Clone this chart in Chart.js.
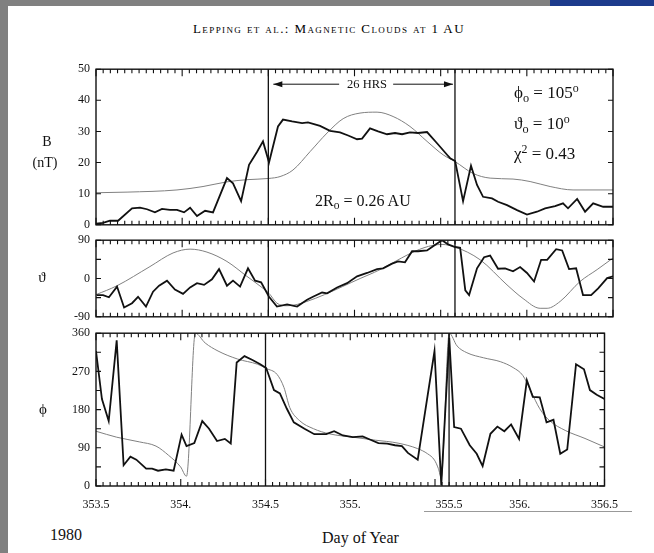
<!DOCTYPE html>
<html lang="en">
<head>
<meta charset="UTF-8">
<title>Magnetic Cloud, Days 353.5 - 356.5, 1980</title>
<script src="https://cdn.jsdelivr.net/npm/chart.js@4.4.1/dist/chart.umd.min.js"></script>
<style>
  body { margin: 0; width: 654px; height: 553px; position: relative; overflow: hidden; background: #fff;
         font-family: "Liberation Serif", "DejaVu Serif", serif; color: #111; }
  canvas { position: absolute; left: 40px; }
  .txt { position: absolute; white-space: nowrap; line-height: 1; }
  .sub { font-size: 0.72em; position: relative; top: 0.3em; }
  .sup { font-size: 0.7em; position: relative; top: -0.5em; }
  #edgeLeft { position: absolute; left: 0; top: 0; width: 8px; height: 553px; background: #808080; }
  #edgeTop { position: absolute; left: 0; top: 0; width: 550px; height: 6px; background: #808080; }
  #edgeBlue { position: absolute; left: 550px; top: 0; width: 104px; height: 6px; background: #1d3b8c; }
  #rule { position: absolute; left: 424px; top: 511px; width: 208px; height: 1px; background: #999; }
</style>
</head>
<body>
<div id="edgeLeft"></div><div id="edgeTop"></div><div id="edgeBlue"></div>

<div class="txt" style="left:193px; top:22px; font-size:13px; font-variant:small-caps; letter-spacing:1.4px; color:#000;">Lepping et al.: Magnetic Clouds at 1 AU</div>

<canvas id="bChart" width="590" height="182" style="top:56px;"></canvas>
<canvas id="thChart" width="590" height="103" style="top:227px;"></canvas>
<canvas id="phChart" width="590" height="190" style="top:320px;"></canvas>

<div class="txt" style="left:47px; top:135px; font-size:14px; transform:translateX(-50%);">B</div>
<div class="txt" style="left:45px; top:156px; font-size:14px; transform:translateX(-50%);">(nT)</div>
<div class="txt" style="left:42px; top:270px; font-size:15px; transform:translateX(-50%);">&#977;</div>
<div class="txt" style="left:43px; top:402px; font-size:15px; transform:translateX(-50%);">&#981;</div>

<div class="txt" style="left:347px; top:78px; font-size:12.5px;">26 HRS</div>
<div class="txt" style="left:514px; top:84px; font-size:17px;">&#981;<span class="sub">o</span> = 105<span class="sup">o</span></div>
<div class="txt" style="left:514px; top:115px; font-size:17px;">&#977;<span class="sub">o</span> = 10<span class="sup">o</span></div>
<div class="txt" style="left:514px; top:145px; font-size:17px;">&#967;<span class="sup">2</span> = 0.43</div>
<div class="txt" style="left:315px; top:193px; font-size:16px;">2R<span class="sub">o</span> = 0.26 AU</div>

<div id="rule"></div>
<div class="txt" style="left:50px; top:527px; font-size:16px;">1980</div>
<div class="txt" style="left:322px; top:530px; font-size:16px;">Day of Year</div>

<script>
// field magnitude B (nT): measured and fitted
const bObsDays = [353.500, 353.541, 353.581, 353.628, 353.709, 353.755, 353.796, 353.842, 353.883, 353.929,
                  353.970, 354.011, 354.046, 354.086, 354.133, 354.179, 354.260, 354.295, 354.342, 354.388,
                  354.435, 354.469, 354.504, 354.556, 354.585, 354.638, 354.696, 354.730, 354.800, 354.858,
                  354.916, 354.963, 355.015, 355.044, 355.090, 355.137, 355.189, 355.235, 355.276, 355.322,
                  355.369, 355.421, 355.479, 355.537, 355.555, 355.584, 355.630, 355.676, 355.711, 355.746,
                  355.798, 355.833, 355.885, 355.943, 356.001, 356.059, 356.106, 356.164, 356.210, 356.239,
                  356.292, 356.338, 356.385, 356.443, 356.500];
const bObsVals = [0.4, 0.6, 1.3, 1.3, 5.3, 5.5, 5.0, 4.0, 5.1, 4.8,
                  4.8, 4.0, 5.5, 2.8, 4.5, 4.0, 15.0, 13.3, 7.6, 19.3,
                  23.5, 26.8, 20.0, 31.6, 33.8, 33.2, 32.7, 32.9, 31.8, 30.2,
                  29.7, 28.7, 27.5, 27.7, 31.0, 30.0, 29.1, 29.5, 29.1, 29.7,
                  29.5, 29.8, 26.2, 22.5, 21.4, 20.5, 7.6, 19.0, 12.8, 9.0,
                  8.5, 7.4, 6.3, 4.7, 3.3, 4.2, 5.3, 6.0, 6.9, 5.3,
                  8.3, 4.2, 6.9, 5.8, 5.8];
const bFitDays = [353.500, 353.680, 353.970, 354.121, 354.260, 354.376, 354.504, 354.568, 354.643, 354.742,
                  354.841, 354.934, 355.032, 355.131, 355.224, 355.322, 355.421, 355.514, 355.584, 355.688,
                  355.787, 355.920, 356.019, 356.135, 356.268, 356.500];
const bFitVals = [10.3, 10.5, 11.2, 12.3, 13.8, 14.5, 14.9, 15.5, 17.6, 23.5,
                  29.5, 34.1, 35.9, 36.2, 34.8, 31.6, 26.8, 22.5, 20.3, 16.5,
                  15.0, 14.7, 13.9, 12.3, 11.2, 11.2];

// latitude angle theta (deg)
const thObsDays = [353.504, 353.541, 353.575, 353.622, 353.663, 353.709, 353.744, 353.790, 353.831, 353.866,
                   353.912, 353.958, 354.005, 354.046, 354.086, 354.127, 354.173, 354.214, 354.260, 354.295,
                   354.336, 354.382, 354.423, 354.458, 354.504, 354.550, 354.609, 354.667, 354.725, 354.759,
                   354.812, 354.841, 354.899, 354.957, 355.015, 355.073, 355.131, 355.166, 355.218, 355.253,
                   355.293, 355.334, 355.369, 355.421, 355.456, 355.508, 355.543, 355.584, 355.613, 355.643,
                   355.665, 355.711, 355.752, 355.787, 355.833, 355.874, 355.920, 355.961, 356.001, 356.042,
                   356.083, 356.118, 356.170, 356.205, 356.245, 356.286, 356.326, 356.373, 356.414, 356.466,
                   356.500];
const thObsVals = [-39, -39, -44, -19, -68, -58, -43, -66, -31, -17,
                   -5, -26, -36, -21, -11, -15, -2, 22, -17, -5,
                   -19, 24, -5, -9, -43, -66, -61, -66, -50, -43,
                   -33, -35, -21, -11, 5, 13, 22, 24, 35, 40,
                   38, 64, 64, 66, 76, 90, 80, 74, 72, -28,
                   -39, 24, 50, 54, 23, 24, 17, 27, 13, -7,
                   44, 44, 69, 66, 22, 24, -39, -39, -23, 1,
                   5];
const thFitDays = [353.500, 353.622, 353.813, 353.947, 354.046, 354.144, 354.260, 354.376, 354.469, 354.504,
                   354.550, 354.609, 354.667, 355.090, 355.508, 355.584, 355.729, 355.885, 355.978, 356.077,
                   356.118, 356.193, 356.309, 356.408, 356.500];
const thFitVals = [-38, -17, 28, 60, 69, 62, 40, 5, -23, -35,
                   -58, -64, -61, 10, 80, 74, 44, -15, -47, -70,
                   -70, -54, -7, 21, 48];

// longitude angle phi (deg)
const phObsDays = [353.500, 353.535, 353.575, 353.622, 353.663, 353.703, 353.738, 353.796, 353.831, 353.866,
                   353.912, 353.958, 354.005, 354.034, 354.080, 354.127, 354.167, 354.214, 354.260, 354.295,
                   354.330, 354.376, 354.423, 354.469, 354.504, 354.550, 354.585, 354.626, 354.667, 354.730,
                   354.788, 354.858, 354.905, 354.957, 355.015, 355.073, 355.119, 355.166, 355.218, 355.264,
                   355.305, 355.340, 355.398, 355.497, 355.537, 355.584, 355.613, 355.653, 355.705, 355.746,
                   355.781, 355.827, 355.868, 355.909, 355.949, 355.996, 356.042, 356.077, 356.118, 356.158,
                   356.199, 356.239, 356.280, 356.332, 356.379, 356.414, 356.454, 356.500];
const phObsVals = [318, 205, 153, 343, 49, 69, 62, 41, 41, 36,
                   39, 36, 121, 94, 101, 153, 135, 106, 111, 100,
                   291, 306, 297, 287, 278, 226, 218, 182, 150, 135,
                   122, 122, 129, 119, 115, 117, 109, 101, 100, 96,
                   94, 78, 62, 318, 2, 350, 139, 135, 96, 76,
                   47, 123, 140, 129, 145, 111, 249, 210, 209, 150,
                   156, 76, 86, 287, 275, 226, 215, 205];
const phFitDays = [353.500, 353.622, 353.755, 353.854, 353.929, 353.999, 354.034, 354.086, 354.144, 354.220,
                   354.336, 354.452, 354.504, 354.568, 354.609, 354.643, 354.701, 354.783, 354.876, 355.015,
                   355.148, 355.282, 355.398, 355.456, 355.497, 355.520, 355.537, 355.584, 355.630, 355.688,
                   355.787, 355.885, 355.961, 356.019, 356.065, 356.118, 356.176, 356.268, 356.385, 356.500];
const phFitVals = [129, 115, 104, 94, 72, 45, 23, 360, 337, 318,
                   299, 287, 277, 263, 232, 185, 154, 135, 123, 115,
                   108, 101, 88, 76, 61, 41, 20, 360, 330, 314,
                   302, 293, 279, 260, 224, 182, 154, 131, 112, 92];

// cloud front and rear boundaries (26 hours apart)
const boundaryDays = [354.5, 355.583];
// the 355.5 label is printed under the rear boundary line
const xTickDays = [353.5, 354, 354.5, 355, 355.583, 356, 356.5];
const xTickLabels = ['353.5', '354.', '354.5', '355.', '355.5', '356.', '356.5'];

const pts = (xs, ys) => xs.map((x, i) => ({ x: x, y: ys[i] }));

// frame, inward tick marks, boundary lines and the 26 HRS arrow
const framePlugin = {
  id: 'frame',
  afterDatasetsDraw(chart, args, opts) {
    const ctx = chart.ctx;
    const { left, right, top, bottom } = chart.chartArea;
    const x = chart.scales.x, y = chart.scales.y;
    ctx.save();
    ctx.strokeStyle = '#111';
    ctx.lineWidth = 1.4;
    ctx.strokeRect(left, top, right - left, bottom - top);

    ctx.lineWidth = 1.1;
    ctx.beginPath();
    for (let h = 0; h <= 72; h++) {
      const px = x.getPixelForValue(353.5 + h / 24);
      const len = h % 12 === 0 ? 7 : 4;
      ctx.moveTo(px, top); ctx.lineTo(px, top + len);
      ctx.moveTo(px, bottom); ctx.lineTo(px, bottom - len);
    }
    for (let v = y.min; v <= y.max; v += opts.yStep) {
      const py = y.getPixelForValue(v);
      ctx.moveTo(left, py); ctx.lineTo(left + 5, py);
      ctx.moveTo(right, py); ctx.lineTo(right - 5, py);
    }
    ctx.stroke();

    ctx.lineWidth = 1.3;
    ctx.beginPath();
    boundaryDays.forEach(d => {
      const px = x.getPixelForValue(d);
      ctx.moveTo(px, top); ctx.lineTo(px, bottom);
    });
    ctx.stroke();

    if (opts.arrow) {
      const x1 = x.getPixelForValue(boundaryDays[0]) + 5;
      const x2 = x.getPixelForValue(boundaryDays[1]) - 2;
      const ay = top + 15;
      const mid = (x1 + x2) / 2 + 3;
      ctx.lineWidth = 1;
      ctx.beginPath();
      ctx.moveTo(x1, ay); ctx.lineTo(mid - 27, ay);
      ctx.moveTo(mid + 27, ay); ctx.lineTo(x2, ay);
      ctx.stroke();
      ctx.fillStyle = '#111';
      ctx.beginPath();
      ctx.moveTo(x1, ay); ctx.lineTo(x1 + 9, ay - 3); ctx.lineTo(x1 + 9, ay + 3); ctx.closePath();
      ctx.moveTo(x2, ay); ctx.lineTo(x2 - 9, ay - 3); ctx.lineTo(x2 - 9, ay + 3); ctx.closePath();
      ctx.fill();
    }
    ctx.restore();
  }
};

const tickFont = { family: '"Liberation Serif", serif', size: 12 };

function makePanel(id, obs, fit, yMin, yMax, yLabels, yStep, opts) {
  const showX = !!opts.showX;
  return new Chart(document.getElementById(id), {
    type: 'line',
    data: {
      datasets: [
        { label: 'observed', data: obs, borderColor: '#111', borderWidth: 1.8, pointRadius: 0, tension: 0 },
        { label: 'model', data: fit, borderColor: '#808080', borderWidth: 1, pointRadius: 0,
          cubicInterpolationMode: 'monotone' }
      ]
    },
    options: {
      responsive: false,
      animation: false,
      events: [],
      layout: { padding: { top: 10, right: 17, bottom: showX ? 0 : 10, left: 0 } },
      plugins: {
        legend: { display: false },
        tooltip: { enabled: false },
        frame: { yStep: yStep, arrow: !!opts.arrow }
      },
      scales: {
        x: {
          type: 'linear', min: 353.5, max: 356.5,
          display: showX,
          grid: { display: false, drawTicks: false },
          border: { display: false },
          afterBuildTicks: s => { s.ticks = xTickDays.map(v => ({ value: v })); },
          afterFit: s => { if (showX) s.height = 24; },
          ticks: {
            font: tickFont, color: '#111', padding: 12, maxRotation: 0, autoSkip: false,
            callback: (v, i) => xTickLabels[i]
          }
        },
        y: {
          min: yMin, max: yMax,
          grid: { display: false, drawTicks: false },
          border: { display: false },
          afterBuildTicks: s => { s.ticks = yLabels.map(v => ({ value: v })); },
          afterFit: s => { s.width = 56; },
          ticks: { font: tickFont, color: '#111', padding: 6 }
        }
      }
    },
    plugins: [framePlugin]
  });
}

makePanel('bChart', pts(bObsDays, bObsVals), pts(bFitDays, bFitVals),
          0, 50, [0, 10, 20, 30, 40, 50], 10, { arrow: true });
makePanel('thChart', pts(thObsDays, thObsVals), pts(thFitDays, thFitVals),
          -90, 90, [-90, 0, 90], 45, {});
makePanel('phChart', pts(phObsDays, phObsVals), pts(phFitDays, phFitVals),
          0, 360, [0, 90, 180, 270, 360], 45, { showX: true });
</script>
</body>
</html>
